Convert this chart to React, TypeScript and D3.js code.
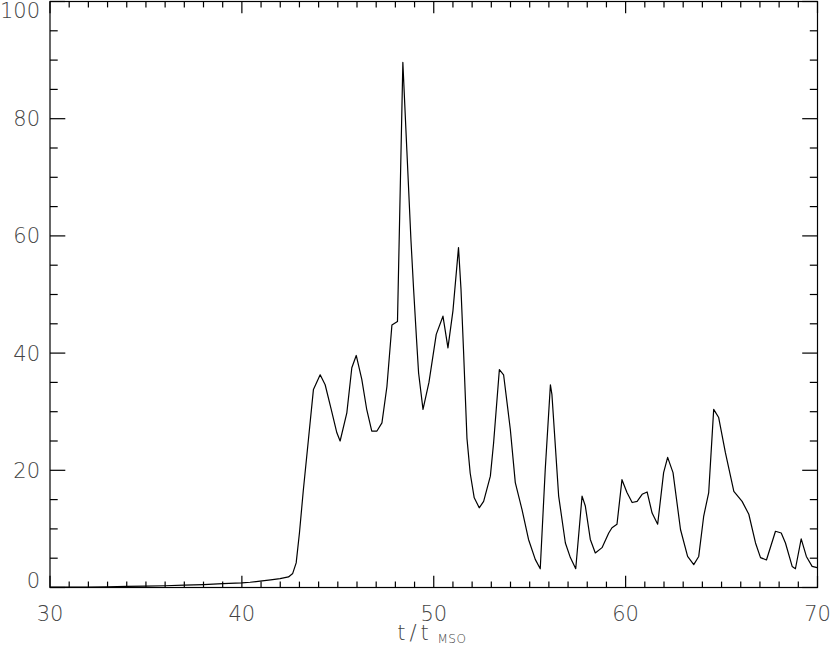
import React from "react";
import * as d3 from "d3";

const times: number[] = [
  30, 31, 32, 33, 34, 35, 36, 37, 38, 39, 40, 40.43, 40.95, 41.5, 41.99, 42.43, 42.65, 42.83,
  43.0, 43.2, 43.47, 43.73, 44.08, 44.34, 44.65, 44.95, 45.12, 45.47, 45.73, 45.96, 46.25, 46.5,
  46.77, 47.04, 47.3, 47.56, 47.82, 48.11, 48.39, 48.6, 48.81, 48.95, 49.1, 49.21, 49.44, 49.75,
  50.13, 50.48, 50.74, 51.0, 51.29, 51.42, 51.55, 51.73, 51.9, 52.11, 52.37, 52.6, 52.95, 53.12,
  53.42, 53.64, 53.99, 54.25, 54.6, 54.94, 55.29, 55.55, 55.81, 56.08, 56.16, 56.51, 56.86, 57.12,
  57.4, 57.73, 57.9, 58.16, 58.42, 58.77, 59.12, 59.29, 59.55, 59.81, 60.07, 60.34, 60.6, 60.86,
  61.12, 61.38, 61.67, 61.98, 62.19, 62.47, 62.86, 63.23, 63.55, 63.81, 64.07, 64.33, 64.59, 64.85,
  65.2, 65.64, 66.07, 66.42, 66.77, 67.03, 67.34, 67.81, 68.11, 68.33, 68.68, 68.85, 69.15, 69.42,
  69.72, 69.98,
];

const values: number[] = [
  0.05, 0.05, 0.05, 0.1, 0.2, 0.25, 0.3, 0.4, 0.5, 0.65, 0.8, 0.9, 1.1, 1.3, 1.5, 1.8, 2.4, 4.2,
  9.3, 16.5, 25.3, 33.8, 36.3, 34.6, 30.5, 26.4, 25.0, 29.8, 37.5, 39.6, 35.5, 30.5,
  26.7, 26.7, 28.1, 34.3, 44.8, 45.4, 89.6, 74.5, 59.4, 50.9, 42.5, 36.6, 30.4, 35.0,
  43.2, 46.3, 40.9, 47.2, 58.0, 50.9, 40.6, 25.5, 19.5, 15.3, 13.6, 14.7, 19.0, 24.7,
  37.2, 36.3, 27.0, 17.9, 13.3, 8.2, 4.8, 3.2, 20.1, 34.6, 32.9, 15.6, 7.6, 5.1,
  3.2, 15.6, 13.9, 8.2, 5.9, 6.8, 9.3, 10.2, 10.8, 18.4, 16.2, 14.5, 14.7, 15.9,
  16.3, 12.7, 10.8, 19.6, 22.2, 19.6, 9.9, 5.3, 3.9, 5.3, 12.2, 16.2, 30.4, 29.0,
  23.0, 16.4, 14.7, 12.5, 7.6, 5.1, 4.7, 9.6, 9.3, 7.6, 3.6, 3.2, 8.3, 5.3,
  3.6, 3.4,
];

const xTickLabels: number[] = [30, 40, 50, 60, 70];
const yTickLabels: number[] = [0, 20, 40, 60, 80, 100];
const xLabelMain = "t/t";
const xLabelSub = "MSO";

const W = 830;
const H = 655;
const L = 50;
const R = 817.5;
const T = 1.5;
const B = 587.5;

export default function App() {
  const x = d3.scaleLinear().domain([30, 70]).range([L, R]);
  const y = d3.scaleLinear().domain([0, 100]).range([B, T]);
  const pts: [number, number][] = times.map((t, i) => [t, values[i]]);
  const line = d3
    .line<[number, number]>()
    .x((d) => x(d[0]))
    .y((d) => y(d[1]));

  const xMinor = d3.range(31, 70, 1).filter((v) => v % 10 !== 0);
  const yMinor = d3.range(5, 100, 5).filter((v) => v % 20 !== 0);
  const xMajLen = 11.7;
  const xMinLen = 5.9;
  const yMajLen = 15.3;
  const yMinLen = 7.7;
  const font = "'DejaVu Sans', sans-serif";
  const labelColor = "#444";

  return (
    <svg
      width={W}
      height={H}
      style={{ position: "absolute", left: 0, top: 0, background: "#fff" }}
    >
      <rect x={0} y={0} width={W} height={H} fill="#fff" />
      <g stroke="#000" strokeWidth={1.2} fill="none">
        <rect x={L} y={T} width={R - L} height={B - T} />
        {xTickLabels.map((v) => (
          <g key={"xM" + v}>
            <line x1={x(v)} x2={x(v)} y1={B} y2={B - xMajLen} />
            <line x1={x(v)} x2={x(v)} y1={T} y2={T + xMajLen} />
          </g>
        ))}
        {xMinor.map((v) => (
          <g key={"xm" + v}>
            <line x1={x(v)} x2={x(v)} y1={B} y2={B - xMinLen} />
            <line x1={x(v)} x2={x(v)} y1={T} y2={T + xMinLen} />
          </g>
        ))}
        {yTickLabels.map((v) => (
          <g key={"yM" + v}>
            <line x1={L} x2={L + yMajLen} y1={y(v)} y2={y(v)} />
            <line x1={R} x2={R - yMajLen} y1={y(v)} y2={y(v)} />
          </g>
        ))}
        {yMinor.map((v) => (
          <g key={"ym" + v}>
            <line x1={L} x2={L + yMinLen} y1={y(v)} y2={y(v)} />
            <line x1={R} x2={R - yMinLen} y1={y(v)} y2={y(v)} />
          </g>
        ))}
        <path d={line(pts) || ""} stroke="#000" strokeWidth={1.2} strokeLinejoin="round" />
      </g>
      <g fontFamily={font} fontSize={21} fill={labelColor} fontWeight={300}>
        {xTickLabels.map((v) => (
          <text key={"xl" + v} x={x(v)} y={621} textAnchor="middle">
            {v}
          </text>
        ))}
        {yTickLabels.map((v, i) => {
          let cy = y(v) + 7.5;
          if (i === 0) cy = y(v);
          if (i === yTickLabels.length - 1) cy = y(v) + 16.5;
          return (
            <text key={"yl" + v} x={40} y={cy} textAnchor="end">
              {v}
            </text>
          );
        })}
        <text x={415} y={640} textAnchor="middle" letterSpacing={4}>
          {xLabelMain}
        </text>
        <text x={437.5} y={643} fontSize={12} letterSpacing={0.5}>
          {xLabelSub}
        </text>
      </g>
    </svg>
  );
}
